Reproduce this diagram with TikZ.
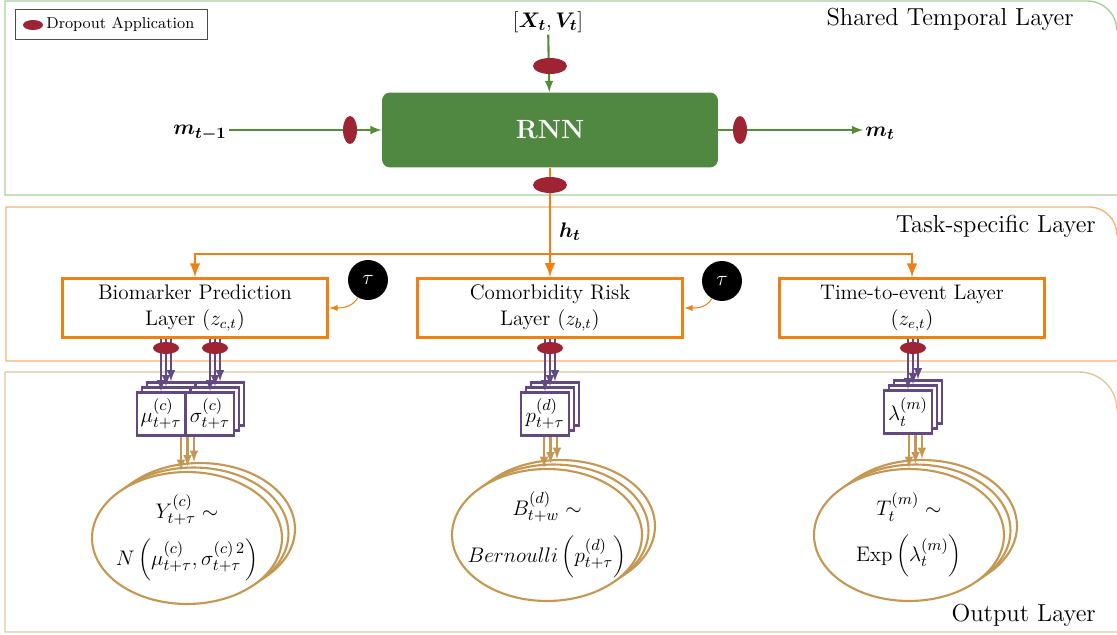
\documentclass[tikz,border=0pt]{standalone}
\usepackage{bm}
\usetikzlibrary{shapes.geometric,calc}

\definecolor{dropred}{RGB}{158,36,52}
\definecolor{rnngreen}{RGB}{80,135,65}
\definecolor{linegreen}{RGB}{84,140,60}
\definecolor{taskorange}{RGB}{240,128,20}
\definecolor{outpurple}{RGB}{100,72,130}
\definecolor{outtan}{RGB}{196,152,82}
\definecolor{framegreen}{RGB}{170,205,160}
\definecolor{frameorange}{RGB}{245,180,120}
\definecolor{frametan}{RGB}{222,200,160}

\begin{document}
\begin{tikzpicture}[x=0.02cm, y=-0.02cm, >=latex]
\tikzstyle{drop}=[shape=ellipse, fill=dropred, inner sep=0pt, minimum width=0.68cm, minimum height=0.32cm]
\tikzstyle{vdrop}=[drop, minimum width=0.28cm, minimum height=0.56cm]
\tikzstyle{taskbox}=[draw=taskorange, line width=1.7pt, fill=white, minimum width=5.32cm, minimum height=1.12cm, align=center, font=\fontsize{12}{15}\selectfont]
\tikzstyle{outsq}=[draw=outpurple, line width=1.3pt, fill=white, minimum width=0.97cm, minimum height=0.86cm, inner sep=0pt, font=\fontsize{13}{15}\selectfont]
\tikzstyle{outell}=[draw=outtan, line width=1.2pt, fill=white, shape=ellipse, minimum width=3.8cm, minimum height=2.64cm, inner sep=0pt]
\tikzstyle{distlabel}=[align=center, inner sep=0pt, font=\fontsize{13}{16}\selectfont]
\tikzstyle{tauc}=[circle, fill=black, text=white, minimum size=0.8cm, inner sep=0pt, font=\fontsize{13}{14}\selectfont]
\tikzstyle{layername}=[anchor=east, font=\fontsize{14}{16}\selectfont]
\tikzstyle{var}=[inner sep=1pt, font=\fontsize{13}{15}\selectfont]

\useasboundingbox (0,0) rectangle (1117,635);

% layer frames
\draw[framegreen, line width=0.8pt] (1117,195) -- (5,195) -- (5,1) -- (1087,1) to[out=0, in=90] (1117,31);
\draw[frameorange, line width=0.8pt] (1117,361) -- (6,361) -- (6,207) -- (1089,207) to[out=0, in=90] (1117,235);
\draw[frametan, line width=0.8pt] (1117,632) -- (5,632) -- (5,372) -- (1079,372) to[out=0, in=90] (1117,410);
\node[layername] (sharedname) at (1080,19) {Shared Temporal Layer};
\node[layername] (taskname) at (1102,226) {Task-specific Layer};
\node[layername] (outname) at (1102,615) {Output Layer};

% legend
\node[draw=black!70, minimum width=3.84cm, minimum height=0.6cm] (legend) at (111,24) {};
\node[drop, minimum width=0.4cm, minimum height=0.2cm] (legdrop) at (33,25) {};
\node[anchor=west, inner sep=0pt, font=\fontsize{9}{10}\selectfont] (legtext) at (46,24) {Dropout Application};

% shared temporal layer
\node[fill=rnngreen, rounded corners=0.16cm, minimum width=6.72cm, minimum height=1.5cm, text=white, font=\bfseries\fontsize{15}{18}\selectfont] (rnn) at (550,130) {RNN};
\node[var] (xv) at (548,22) {$[\bm{X_t},\bm{V_t}]$};
\node[var] (mprev) at (200,133) {$\bm{m_{t-1}}$};
\node[var] (mnext) at (880,133) {$\bm{m_t}$};
\draw[linegreen, line width=1.2pt, ->] (xv) -- (rnn);
\draw[linegreen, line width=1.2pt, ->] (mprev.east |- rnn.west) -- (rnn.west);
\draw[linegreen, line width=1.2pt, ->] (rnn.east) -- (mnext.west |- rnn.east);
\node[drop] (topdrop) at (550,66) {};
\node[vdrop] (leftdrop) at (350,130) {};
\node[vdrop] (rightdrop) at (740,130) {};

% task-specific layer
\node[taskbox] (bio) at (195,308) {Biomarker Prediction\\Layer ($z_{c,t}$)};
\node[taskbox] (com) at (550,308) {Comorbidity Risk\\Layer ($z_{b,t}$)};
\node[taskbox] (tte) at (912,308) {Time-to-event Layer\\($z_{e,t}$)};
\coordinate (split) at (550,254);
\draw[taskorange, line width=1.7pt] (rnn) -- (split);
\draw[taskorange, line width=1.7pt, ->] (split) -- (com);
\draw[taskorange, line width=1.7pt, ->] (split) -| (bio);
\draw[taskorange, line width=1.7pt, ->] (split) -| (tte);
\node[drop] (botdrop) at (550,185) {};
\node[var] (ht) at (570,232) {$\bm{h_t}$};
\node[tauc] (tau1) at (368,280) {$\tau$};
\node[tauc] (tau2) at (722,281) {$\tau$};
\draw[taskorange, line width=0.6pt, ->] (tau1) to[out=-120, in=0] (bio.east);
\draw[taskorange, line width=0.6pt, ->] (tau2) to[out=-120, in=0] (com.east);

% output layer: parameter boxes
\foreach \k in {2,1} {
  \node[outsq] (mu\k) at ($(161,414)+(5*\k,-5*\k)$) {};
  \node[outsq] (sg\k) at ($(210,414)+(5*\k,-5*\k)$) {};
  \node[outsq] (p\k) at ($(545,414)+(5*\k,-5*\k)$) {};
  \node[outsq] (l\k) at ($(908,412)+(5*\k,-5*\k)$) {};
}
\node[outsq] (mu0) at (161,414) {$\mu^{(c)}_{t+\tau}$};
\node[outsq] (sg0) at (210,414) {$\sigma^{(c)}_{t+\tau}$};
\node[outsq] (p0) at (545,414) {$p^{(d)}_{t+\tau}$};
\node[outsq] (l0) at (908,412) {$\lambda^{(m)}_{t}$};
\foreach \k in {0,1,2} {
  \draw[outpurple, line width=1.2pt, ->] (mu\k.north |- bio.south) -- (mu\k.north);
  \draw[outpurple, line width=1.2pt, ->] (sg\k.north |- bio.south) -- (sg\k.north);
  \draw[outpurple, line width=1.2pt, ->] (p\k.north |- com.south) -- (p\k.north);
  \draw[outpurple, line width=1.2pt, ->] (l\k.north |- tte.south) -- (l\k.north);
}
\node[drop, minimum width=0.52cm, minimum height=0.24cm] (mudrop) at (166,348) {};
\node[drop, minimum width=0.52cm, minimum height=0.24cm] (sgdrop) at (215,348) {};
\node[drop, minimum width=0.52cm, minimum height=0.24cm] (pdrop) at (550,348) {};
\node[drop, minimum width=0.52cm, minimum height=0.24cm] (ldrop) at (913,348) {};

% output layer: distributions
\foreach \k in {2,1,0} {
  \node[outell] (be\k) at ($(187,538)+(6.5*\k,-4.5*\k)$) {};
  \node[outell] (ce\k) at ($(547,535)+(6.5*\k,-4.5*\k)$) {};
  \node[outell] (te\k) at ($(909,535)+(6.5*\k,-4.5*\k)$) {};
}
\node[distlabel] (bedist) at (be0) {$Y^{(c)}_{t+\tau}\sim$\\[7pt]$N\left(\mu^{(c)}_{t+\tau},\sigma^{(c)\,2}_{t+\tau}\right)$};
\node[distlabel] (cedist) at (ce0) {$B^{(d)}_{t+w}\sim$\\[7pt]$Bernoulli\left(p^{(d)}_{t+\tau}\right)$};
\node[distlabel] (tedist) at (te0) {$T^{(m)}_{t}\sim$\\[7pt]$\mathrm{Exp}\left(\lambda^{(m)}_{t}\right)$};
\foreach \k in {0,1,2} {
  \draw[outtan, line width=1.2pt, ->] ($(be\k.north |- mu0.south)+(-6,0)$) -- ($(be\k.north)+(-6,0)$);
  \draw[outtan, line width=1.2pt, ->] ($(ce\k.north |- p0.south)+(-3,0)$) -- ($(ce\k.north)+(-3,0)$);
  \draw[outtan, line width=1.2pt, ->] (te\k.north |- l0.south) -- (te\k.north);
}
\end{tikzpicture}
\end{document}
